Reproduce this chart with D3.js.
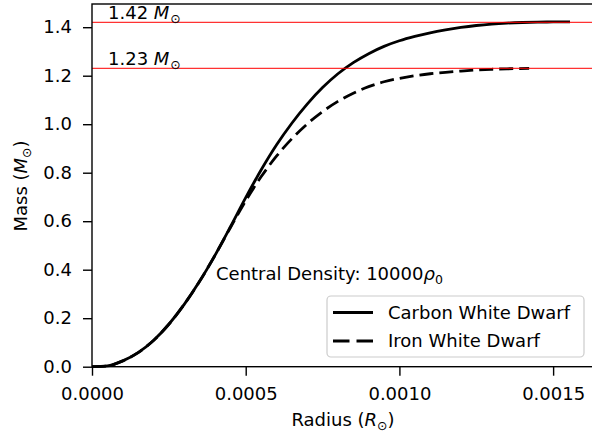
<!DOCTYPE html>
<html><head><meta charset="utf-8">
<script src="https://cdn.jsdelivr.net/npm/d3@7"></script>
<style>
body{margin:0;background:#fff}
svg{display:block}
text{font-family:"DejaVu Sans",sans-serif;fill:#000}
</style>
</head><body>
<svg id="chart" width="592" height="435"></svg>
<script>
// ---- data (radius in solar radii, mass in solar masses) ----
const carbonRadius = [0, 0.5e-4, 1.0e-4, 1.5e-4, 2.0e-4, 2.5e-4, 3.0e-4, 3.5e-4, 4.0e-4, 4.5e-4, 5.0e-4, 5.5e-4, 6.0e-4, 6.5e-4, 7.0e-4, 7.5e-4, 8.0e-4, 8.5e-4, 9.0e-4, 9.5e-4, 10.0e-4, 10.5e-4, 11.0e-4, 11.5e-4, 12.0e-4, 12.5e-4, 13.0e-4, 13.5e-4, 14.0e-4, 14.5e-4, 15.0e-4, 15.55e-4];
const carbonMass   = [0, 0.003, 0.024, 0.058, 0.108, 0.175, 0.257, 0.352, 0.459, 0.576, 0.697, 0.811, 0.914, 1.004, 1.083, 1.151, 1.208, 1.254, 1.291, 1.321, 1.344, 1.362, 1.377, 1.389, 1.399, 1.407, 1.413, 1.417, 1.4195, 1.421, 1.4217, 1.422];
const ironRadius   = [0, 0.5e-4, 1.0e-4, 1.5e-4, 2.0e-4, 2.5e-4, 3.0e-4, 3.5e-4, 4.0e-4, 4.5e-4, 5.0e-4, 5.5e-4, 6.0e-4, 6.5e-4, 7.0e-4, 7.5e-4, 8.0e-4, 8.5e-4, 9.0e-4, 9.5e-4, 10.0e-4, 10.5e-4, 11.0e-4, 11.5e-4, 12.0e-4, 12.5e-4, 13.0e-4, 13.5e-4, 14.22e-4];
const ironMass     = [0, 0.003, 0.024, 0.058, 0.108, 0.175, 0.257, 0.352, 0.459, 0.573, 0.684, 0.783, 0.868, 0.940, 1.001, 1.052, 1.094, 1.128, 1.155, 1.175, 1.189, 1.200, 1.208, 1.214, 1.219, 1.2235, 1.2265, 1.2285, 1.230];
const limitMasses  = [1.42, 1.23];
const limitLabels  = ["1.42", "1.23"];
const xTicks = [0, 0.0005, 0.0010, 0.0015];
const yTicks = [0, 0.2, 0.4, 0.6, 0.8, 1.0, 1.2, 1.4];
const seriesNames = ["Carbon White Dwarf", "Iron White Dwarf"];
const centralDensity = "10000";

// ---- layout ----
const svg = d3.select("#chart");
const L = 92, R = 594, T = 4, B = 366.7;
const x = d3.scaleLinear().domain([0, 0.001633]).range([L, R]);
const y = d3.scaleLinear().domain([0, 1.4957]).range([B, T]);
const FS = 18;

const line = d3.line().x(d => x(d[0])).y(d => y(d[1])).curve(d3.curveMonotoneX);
const carbon = carbonRadius.map((r, i) => [r, carbonMass[i]]);
const iron = ironRadius.map((r, i) => [r, ironMass[i]]);

svg.append("path").attr("d", line(carbon)).attr("fill", "none")
  .attr("stroke", "#000").attr("stroke-width", 2.8).attr("stroke-linejoin", "round");
svg.append("path").attr("d", line(iron)).attr("fill", "none")
  .attr("stroke", "#000").attr("stroke-width", 2.8).attr("stroke-dasharray", "14,6");

// red limit lines
svg.selectAll("line.limit").data(limitMasses).enter().append("line")
  .attr("class", "limit")
  .attr("x1", L).attr("x2", R)
  .attr("y1", d => y(d)).attr("y2", d => y(d))
  .attr("stroke", "red").attr("stroke-width", 1.3).attr("opacity", 0.8);

// limit labels
limitMasses.forEach((m, i) => {
  const t = svg.append("text").attr("x", 108).attr("y", y(m) - 3).attr("font-size", FS);
  t.append("tspan").text(limitLabels[i] + " ");
  t.append("tspan").attr("font-style", "italic").text("M");
  t.append("tspan").attr("font-size", 12.5).attr("dy", 4).attr("dx", 1).text("\u2299");
});

// axes
const xAxis = d3.axisBottom(x).tickValues(xTicks).tickFormat(d3.format(".4f"))
  .tickSize(9).tickPadding(11.5);
const yAxis = d3.axisLeft(y).tickValues(yTicks).tickFormat(d3.format(".1f"))
  .tickSize(9).tickPadding(11);
const gx = svg.append("g").attr("transform", `translate(0,${B})`).call(xAxis);
const gy = svg.append("g").attr("transform", `translate(${L},0)`).call(yAxis);
[gx, gy].forEach(g => {
  g.select(".domain").remove();
  g.selectAll(".tick line").attr("stroke", "#000").attr("stroke-width", 1.4);
  g.selectAll(".tick text").attr("font-size", FS).attr("font-family", "DejaVu Sans").attr("fill", "#000");
});

// spines
svg.append("rect").attr("x", L).attr("y", T).attr("width", R - L).attr("height", B - T)
  .attr("fill", "none").attr("stroke", "#000").attr("stroke-width", 1.4);

// axis labels
const xl = svg.append("text").attr("x", 343).attr("y", 426).attr("text-anchor", "middle").attr("font-size", FS);
xl.append("tspan").text("Radius (");
xl.append("tspan").attr("font-style", "italic").text("R");
xl.append("tspan").attr("font-size", 12.5).attr("dy", 4).text("\u2299");
xl.append("tspan").attr("dy", -4).text(")");

const yl = svg.append("text").attr("transform", "translate(26.7,186) rotate(-90)")
  .attr("text-anchor", "middle").attr("font-size", FS);
yl.append("tspan").text("Mass (");
yl.append("tspan").attr("font-style", "italic").text("M");
yl.append("tspan").attr("font-size", 12.5).attr("dy", 4).text("\u2299");
yl.append("tspan").attr("dy", -4).text(")");

// annotation
const ann = svg.append("text").attr("x", 216).attr("y", 280).attr("font-size", FS);
ann.append("tspan").text("Central Density: " + centralDensity);
ann.append("tspan").attr("font-style", "italic").text("\u03C1");
ann.append("tspan").attr("font-size", 12.5).attr("dy", 4).text("0");

// legend
const lg = svg.append("g");
lg.append("rect").attr("x", 327).attr("y", 296).attr("width", 257).attr("height", 61)
  .attr("rx", 4).attr("fill", "#fff").attr("fill-opacity", 0.8)
  .attr("stroke", "#cccccc").attr("stroke-width", 1.2);
const legendY = [312.5, 341];
seriesNames.forEach((name, i) => {
  lg.append("line").attr("x1", 333).attr("x2", 373).attr("y1", legendY[i]).attr("y2", legendY[i])
    .attr("stroke", "#000").attr("stroke-width", 2.8)
    .attr("stroke-dasharray", i === 1 ? "16.5,7" : null);
  lg.append("text").attr("x", 388).attr("y", legendY[i] + 6.3).attr("font-size", FS).text(name);
});
</script>
</body></html>
